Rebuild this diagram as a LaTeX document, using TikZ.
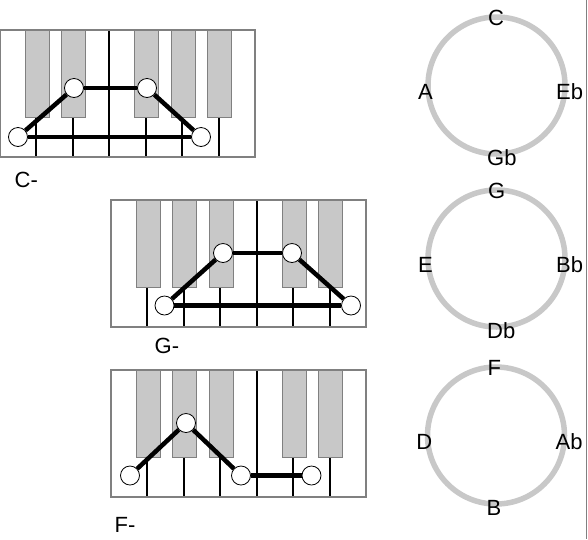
\documentclass[tikz,border=0pt]{standalone}
\usepackage{fontspec}
\setmainfont{Liberation Sans}
\usepackage{tikz}
\definecolor{keyGray}{RGB}{200,200,200}
\definecolor{rimGray}{RGB}{128,128,128}
\newcommand{\keyWidth}[0]{36.43}
\newcommand{\keyboard}[3]{%
  \fill[white] (#1,#2) rectangle ++(255,127);
  \foreach \k in {1,...,6}
    \draw[divider] ({#1+\k*\keyWidth},#2) -- ++(0,127);
  \foreach \k in {#3}
    \filldraw[blackkey] ({#1+\k*\keyWidth-11},#2) rectangle ++(24,87);
  \draw[frame] (#1,#2) rectangle ++(255,127);
}
\newcommand{\chordWheel}[7]{%
  \draw[wheel] (#2,#3) circle[radius=68.5];
  \node[pitch, anchor=west] (#1-top) at ({#2-8.5},{#3-68}) {#4};
  \node[pitch, anchor=west] (#1-right) at ({#2+59.5},{#3+6.5}) {#5};
  \node[pitch, anchor=west] (#1-bottom) at ({#2-9.5},{#3+72}) {#6};
  \node[pitch, anchor=east] (#1-left) at ({#2-63.5},{#3+6.5}) {#7};
}

\begin{document}
\begin{tikzpicture}[x=1pt, y=-1pt]
  \tikzset{divider/.style={black, line width=2pt},
    blackkey/.style={fill=keyGray, draw=rimGray, line width=0.8pt},
    frame/.style={draw=rimGray, line width=1.5pt},
    note/.style={circle, draw, fill=white, minimum size=19pt, inner sep=0pt, line width=0.8pt},
    chord/.style={line width=4.5pt},
    wheel/.style={draw=keyGray, line width=5.5pt},
    pitch/.style={font=\fontsize{22}{26}\selectfont, inner sep=0pt}}
  \useasboundingbox (0,0) rectangle (588,539);
  \keyboard{0}{30}{1,2,4,5,6}
  \keyboard{111}{200}{1,2,3,5,6}
  \keyboard{111}{370}{1,2,3,5,6}
  \node[note] (K-1-1) at (18,137) {};
  \node[note] (K-1-2) at (74,88) {};
  \node[note] (K-1-3) at (147,88) {};
  \node[note] (K-1-4) at (201,137) {};
  \node[note] (K-2-1) at (164.5,305.5) {};
  \node[note] (K-2-2) at (223,253) {};
  \node[note] (K-2-3) at (292,253) {};
  \node[note] (K-2-4) at (351,305.5) {};
  \node[note] (K-3-1) at (130,475.5) {};
  \node[note] (K-3-2) at (186,423) {};
  \node[note] (K-3-3) at (241,475.5) {};
  \node[note] (K-3-4) at (311.5,475.5) {};
  \draw[chord] (K-1-1) -- (K-1-2);
  \draw[chord] (K-1-2) -- (K-1-3);
  \draw[chord] (K-1-3) -- (K-1-4);
  \draw[chord] (K-1-1) -- (K-1-4);
  \draw[chord] (K-2-1) -- (K-2-2);
  \draw[chord] (K-2-2) -- (K-2-3);
  \draw[chord] (K-2-3) -- (K-2-4);
  \draw[chord] (K-2-1) -- (K-2-4);
  \draw[chord] (K-3-1) -- (K-3-2);
  \draw[chord] (K-3-2) -- (K-3-3);
  \draw[chord] (K-3-3) -- (K-3-4);
  \node[pitch, anchor=west] (name-1) at (14.5,180) {C-};
  \node[pitch, anchor=west] (name-2) at (154.5,345.5) {G-};
  \node[pitch, anchor=west] (name-3) at (114.5,525) {F-};
  \chordWheel{W-1}{496.5}{85.5}{C}{Eb}{Gb}{A}
  \chordWheel{W-2}{496.5}{258.5}{G}{Bb}{Db}{E}
  \chordWheel{W-3}{496}{435.5}{F}{Ab}{B}{D}
  \draw[rimGray, line width=1pt] (586.5,0) -- (586.5,539);
\end{tikzpicture}
\end{document}
